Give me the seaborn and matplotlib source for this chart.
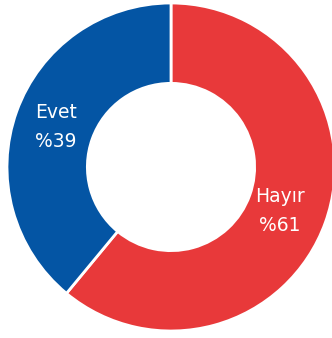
import matplotlib
matplotlib.use("Agg")
import matplotlib.pyplot as plt
import seaborn as sns

labels = ["Hayır", "Evet"]
values = [61, 39]
colors = ["#E8393A", "#0455A4"]

sns.set_theme(style="white")
plt.rcParams["font.family"] = ["DejaVu Sans"]

W, H = 332, 338
fig = plt.figure(figsize=(W / 100, H / 100), dpi=100)
cx, cy, r = 171, 171, 164
ax = fig.add_axes([(cx - r) / W, (cy - r) / H, 2 * r / W, 2 * r / H])

wedges, _ = ax.pie(values, colors=colors, startangle=90, counterclock=False,
                   radius=1, wedgeprops=dict(width=0.49, edgecolor="white", linewidth=2))
ax.set_xlim(-1, 1)
ax.set_ylim(-1, 1)
ax.set_axis_off()

label_pos = [(0.665, -0.27), (-0.70, 0.245)]
for lab, val, (x, y) in zip(labels, values, label_pos):
    ax.text(x, y, f"{lab}\n%{val}", ha="center", va="center", color="white",
            fontsize=13.5, fontweight="normal", linespacing=1.65)

fig.savefig("out.png", dpi=100)
